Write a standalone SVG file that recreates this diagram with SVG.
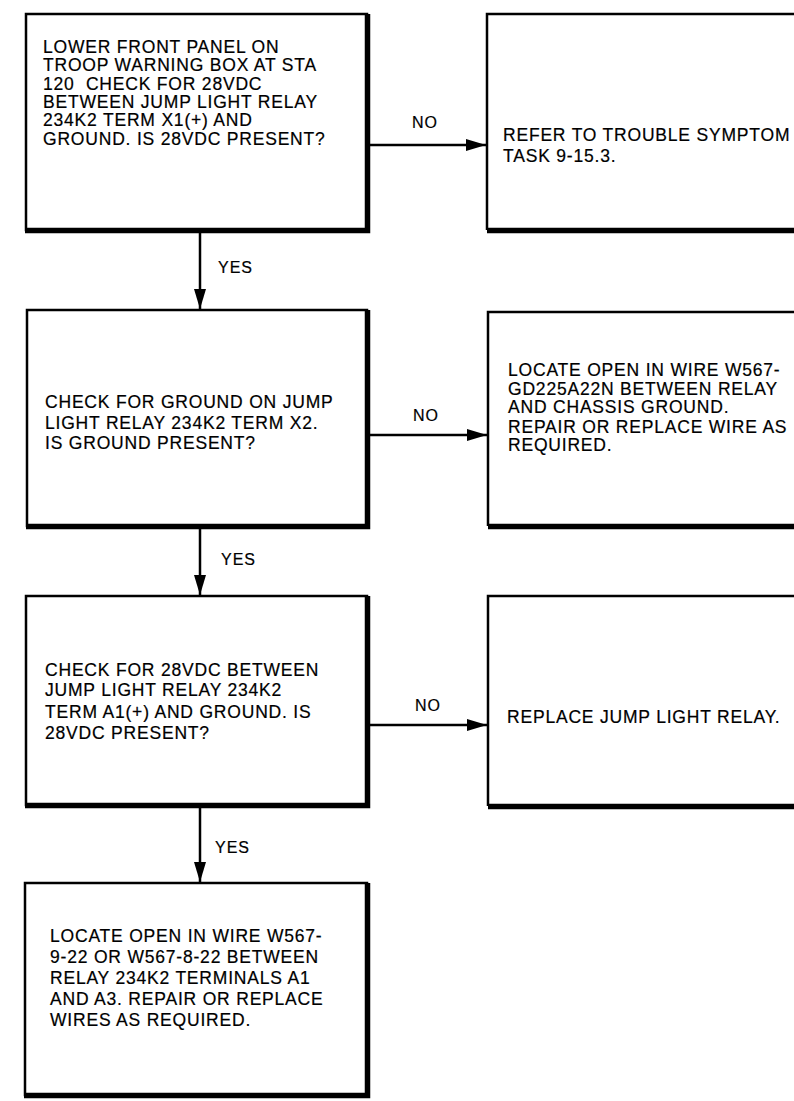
<svg xmlns="http://www.w3.org/2000/svg" width="794" height="1101" viewBox="0 0 794 1101">
<defs>
<style>
.thin{fill:none;stroke:#000;stroke-width:2.5}
.thick{fill:none;stroke:#000;stroke-width:5.5;stroke-linejoin:miter}
.t{font-family:"Liberation Sans",Arial,Helvetica,sans-serif;font-size:17.5px;letter-spacing:0.8px;fill:#000;stroke:#000;stroke-width:0.2;white-space:pre}
.lbl{font-family:"Liberation Sans",Arial,Helvetica,sans-serif;font-size:16px;letter-spacing:1px;fill:#000;stroke:#000;stroke-width:0.2}
.edge{fill:none;stroke:#000;stroke-width:2.5}
</style>
<marker id="ah" viewBox="0 0 20 12" refX="20" refY="6" markerWidth="20" markerHeight="12" markerUnits="userSpaceOnUse" orient="auto">
<path d="M0,0 L20,6 L0,12 Z" fill="#000"/>
</marker>
</defs>
<rect width="794" height="1101" fill="#fff"/>

<g id="connectors">
<line class="edge" x1="200" y1="233" x2="200" y2="309" marker-end="url(#ah)"/>
<line class="edge" x1="200" y1="529" x2="200" y2="595" marker-end="url(#ah)"/>
<line class="edge" x1="200" y1="808" x2="200" y2="882" marker-end="url(#ah)"/>
<line class="edge" x1="370" y1="145" x2="486" y2="145" marker-end="url(#ah)"/>
<line class="edge" x1="370" y1="435" x2="487" y2="435" marker-end="url(#ah)"/>
<line class="edge" x1="370" y1="725" x2="487" y2="725" marker-end="url(#ah)"/>
<text class="lbl" x="218" y="273">YES</text>
<text class="lbl" x="221" y="565">YES</text>
<text class="lbl" x="215" y="853">YES</text>
<text class="lbl" x="412" y="128">NO</text>
<text class="lbl" x="413" y="421">NO</text>
<text class="lbl" x="415" y="711">NO</text>
</g>

<g id="box1">
<rect class="thin" x="26" y="14" width="341" height="216"/>
<path class="thick" d="M367.5,14 V230.5 H25"/>
<text class="t"><tspan x="43" y="53">LOWER FRONT PANEL ON</tspan><tspan x="43" y="71.3">TROOP WARNING BOX AT STA</tspan><tspan x="43" y="89.6">120  CHECK FOR 28VDC</tspan><tspan x="43" y="107.9">BETWEEN JUMP LIGHT RELAY</tspan><tspan x="43" y="126.2">234K2 TERM X1(+) AND</tspan><tspan x="43" y="144.5">GROUND. IS 28VDC PRESENT?</tspan></text>
</g>

<g id="result1">
<path class="thin" d="M800,14 H487 V230"/>
<path class="thick" d="M487,230.5 H800"/>
<text class="t"><tspan x="503" y="141">REFER TO TROUBLE SYMPTOM</tspan><tspan x="503" y="162">TASK 9-15.3.</tspan></text>
</g>

<g id="box2">
<rect class="thin" x="27" y="310" width="340" height="216"/>
<path class="thick" d="M367.5,310 V526.5 H26"/>
<text class="t"><tspan x="45" y="408">CHECK FOR GROUND ON JUMP</tspan><tspan x="45" y="428.5">LIGHT RELAY 234K2 TERM X2.</tspan><tspan x="45" y="449">IS GROUND PRESENT?</tspan></text>
</g>

<g id="result2">
<path class="thin" d="M800,312 H488 V526"/>
<path class="thick" d="M488,526.5 H800"/>
<text class="t"><tspan x="508" y="376">LOCATE OPEN IN WIRE W567-</tspan><tspan x="508" y="394.5">GD225A22N BETWEEN RELAY</tspan><tspan x="508" y="413">AND CHASSIS GROUND.</tspan><tspan x="508" y="432.5">REPAIR OR REPLACE WIRE AS</tspan><tspan x="508" y="451">REQUIRED.</tspan></text>
</g>

<g id="box3">
<rect class="thin" x="26" y="596" width="341" height="209"/>
<path class="thick" d="M367.5,596 V805.5 H25"/>
<text class="t"><tspan x="45" y="676">CHECK FOR 28VDC BETWEEN</tspan><tspan x="45" y="696">JUMP LIGHT RELAY 234K2</tspan><tspan x="45" y="717.5">TERM A1(+) AND GROUND. IS</tspan><tspan x="45" y="739">28VDC PRESENT?</tspan></text>
</g>

<g id="result3">
<path class="thin" d="M800,596 H488 V806"/>
<path class="thick" d="M488,806.5 H800"/>
<text class="t"><tspan x="507" y="723">REPLACE JUMP LIGHT RELAY.</tspan></text>
</g>

<g id="box4">
<rect class="thin" x="25" y="883" width="342" height="212"/>
<path class="thick" d="M367.5,883 V1095.5 H24"/>
<text class="t"><tspan x="50" y="942">LOCATE OPEN IN WIRE W567-</tspan><tspan x="50" y="963">9-22 OR W567-8-22 BETWEEN</tspan><tspan x="50" y="984">RELAY 234K2 TERMINALS A1</tspan><tspan x="50" y="1005">AND A3. REPAIR OR REPLACE</tspan><tspan x="50" y="1026">WIRES AS REQUIRED.</tspan></text>
</g>
</svg>
